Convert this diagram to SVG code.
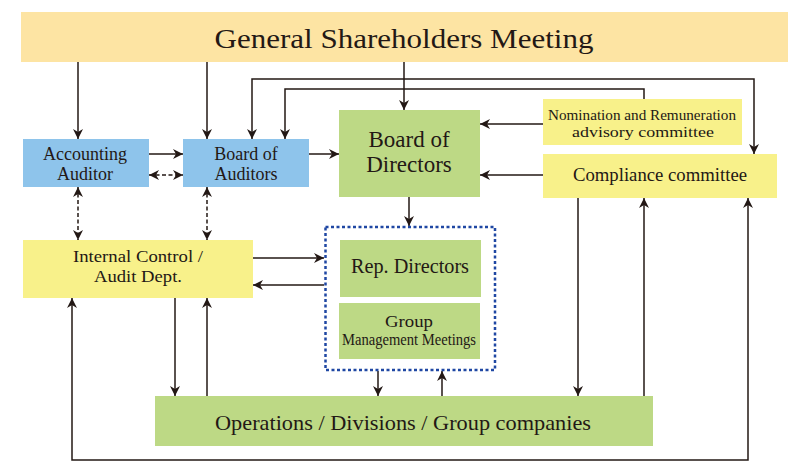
<svg xmlns="http://www.w3.org/2000/svg" width="801" height="473" viewBox="0 0 801 473" font-family="Liberation Serif, Times New Roman, serif">
<style>
text{fill:#231815;text-anchor:middle}
.ln{fill:none;stroke:#231815;stroke-width:1.5}
.ds{stroke-dasharray:4 2.5}
.gsm{fill:#fde4a3}
.blue{fill:#8ec4eb}
.green{fill:#bdd985}
.yel{fill:#f8f18a}
</style>
<defs>
<marker id="ah" viewBox="0 0 10 10" refX="10" refY="5" markerWidth="10" markerHeight="10" markerUnits="userSpaceOnUse" orient="auto-start-reverse">
<path d="M0,0 L10,5 L0,10 L3,5 z" fill="#231815"/>
</marker>
</defs>
<g id="connectors">
<path class="ln" d="M78,62 V139" marker-end="url(#ah)"/>
<path class="ln" d="M207,62 V139" marker-end="url(#ah)"/>
<path class="ln" d="M404,62 V110" marker-end="url(#ah)"/>
<path class="ln" d="M252,139 V79 H754 V154" marker-start="url(#ah)" marker-end="url(#ah)"/>
<path class="ln" d="M644,99 V89 H285 V139" marker-end="url(#ah)"/>
<path class="ln" d="M543,124 H480" marker-end="url(#ah)"/>
<path class="ln" d="M543,175 H480" marker-end="url(#ah)"/>
<path class="ln" d="M149,154 H183" marker-end="url(#ah)"/>
<path class="ln ds" d="M149,175 H183" marker-start="url(#ah)" marker-end="url(#ah)"/>
<path class="ln" d="M309,154 H339" marker-end="url(#ah)"/>
<path class="ln ds" d="M78,187 V240" marker-start="url(#ah)" marker-end="url(#ah)"/>
<path class="ln ds" d="M207,187 V240" marker-start="url(#ah)" marker-end="url(#ah)"/>
<path class="ln" d="M409,197 V226" marker-end="url(#ah)"/>
<path class="ln" d="M253,258 H324" marker-end="url(#ah)"/>
<path class="ln" d="M324,285 H253" marker-end="url(#ah)"/>
<path class="ln" d="M175,298 V396" marker-end="url(#ah)"/>
<path class="ln" d="M207,396 V298" marker-end="url(#ah)"/>
<path class="ln" d="M72,298 V460 H748 V198" marker-start="url(#ah)" marker-end="url(#ah)"/>
<path class="ln" d="M378,371 V396" marker-end="url(#ah)"/>
<path class="ln" d="M442,396 V371" marker-end="url(#ah)"/>
<path class="ln" d="M578,198 V396" marker-end="url(#ah)"/>
<path class="ln" d="M644,396 V198" marker-end="url(#ah)"/>
</g>
<g id="gsm">
<rect class="gsm" x="21" y="12" width="767" height="50"/>
<text x="404" y="48" font-size="28" textLength="379" lengthAdjust="spacingAndGlyphs">General Shareholders Meeting</text>
</g>
<g id="accounting-auditor">
<rect class="blue" x="23" y="139" width="126" height="48"/>
<text x="85" y="160" font-size="18">Accounting</text>
<text x="85" y="179.5" font-size="18">Auditor</text>
</g>
<g id="board-of-auditors">
<rect class="blue" x="183" y="139" width="126" height="48"/>
<text x="246" y="160" font-size="18">Board of</text>
<text x="246" y="179.5" font-size="18">Auditors</text>
</g>
<g id="board-of-directors">
<rect class="green" x="339" y="110" width="141" height="87"/>
<text x="409" y="147" font-size="23">Board of</text>
<text x="409" y="172" font-size="23">Directors</text>
</g>
<g id="nomination">
<rect class="yel" x="543" y="99" width="199" height="46"/>
<text x="642" y="120" font-size="15.5" textLength="188" lengthAdjust="spacingAndGlyphs">Nomination and  Remuneration</text>
<text x="643" y="137" font-size="15.5" textLength="142" lengthAdjust="spacingAndGlyphs">advisory committee</text>
</g>
<g id="compliance">
<rect class="yel" x="543" y="154" width="234" height="44"/>
<text x="660" y="181" font-size="18.3" textLength="174" lengthAdjust="spacingAndGlyphs">Compliance committee</text>
</g>
<g id="internal-control">
<rect class="yel" x="23" y="240" width="230" height="58"/>
<text x="138" y="262" font-size="17.5" textLength="130" lengthAdjust="spacingAndGlyphs">Internal Control /</text>
<text x="138" y="282" font-size="17.5" textLength="88" lengthAdjust="spacingAndGlyphs">Audit Dept.</text>
</g>
<g id="executive-group">
<rect x="325.5" y="227" width="169.5" height="143" fill="none" stroke="#1f47a3" stroke-width="2.5" stroke-dasharray="3 2.5"/>
</g>
<g id="rep-directors">
<rect class="green" x="340" y="240" width="141" height="57"/>
<text x="410" y="273" font-size="20" textLength="118" lengthAdjust="spacingAndGlyphs">Rep. Directors</text>
</g>
<g id="group-management">
<rect class="green" x="339" y="303" width="141" height="56"/>
<text x="409" y="327" font-size="17" textLength="48" lengthAdjust="spacingAndGlyphs">Group</text>
<text x="409" y="345" font-size="16" textLength="134" lengthAdjust="spacingAndGlyphs">Management Meetings</text>
</g>
<g id="operations">
<rect class="green" x="155" y="396" width="498" height="50"/>
<text x="403" y="430" font-size="21" textLength="376" lengthAdjust="spacingAndGlyphs">Operations / Divisions / Group companies</text>
</g>
</svg>
